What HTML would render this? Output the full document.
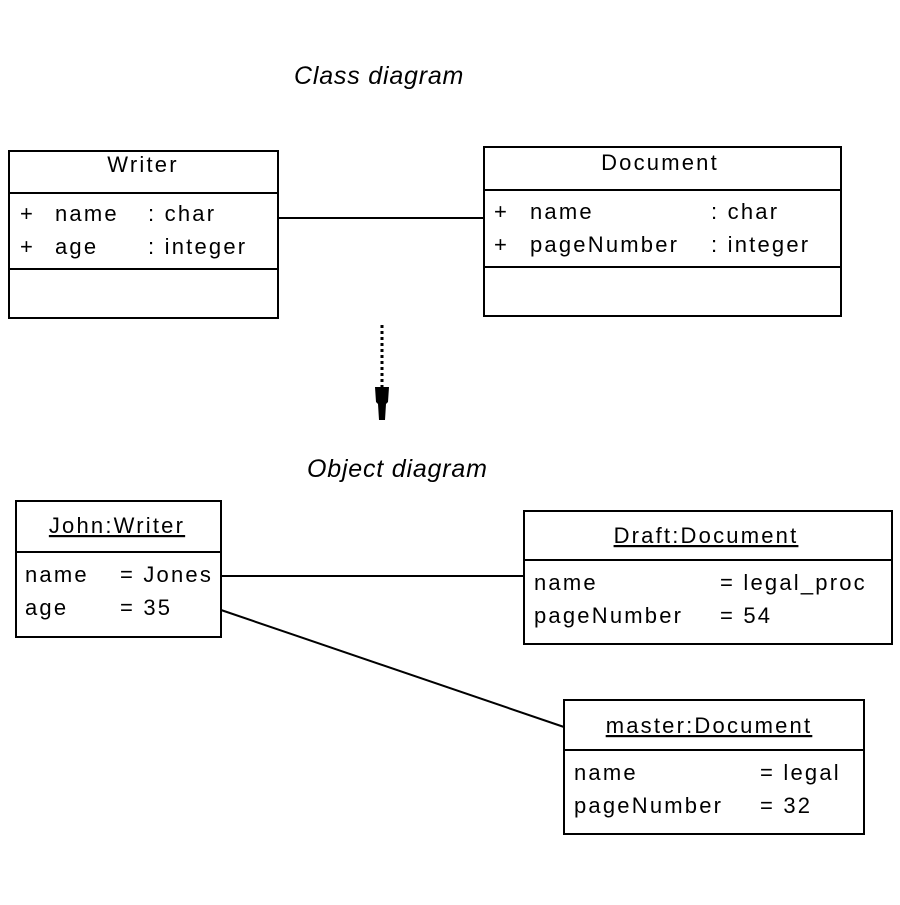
<!DOCTYPE html>
<html><head><style>
body{margin:0;background:#fff}
svg text{font-family:"Liberation Sans",sans-serif;font-size:22px;fill:#000;letter-spacing:2.2px}
.i{font-style:italic;letter-spacing:0.8px;font-size:25px}
</style></head><body>
<svg width="900" height="900" viewBox="0 0 900 900" xmlns="http://www.w3.org/2000/svg">
<rect width="900" height="900" fill="#fff"/>
<g fill="none" stroke="#000" stroke-width="2">
<rect x="9" y="151" width="269" height="167"/>
<line x1="9" y1="193" x2="278" y2="193"/>
<line x1="9" y1="269" x2="278" y2="269"/>
<rect x="484" y="147" width="357" height="169"/>
<line x1="484" y1="190" x2="841" y2="190"/>
<line x1="484" y1="267" x2="841" y2="267"/>
<line x1="278" y1="218" x2="484" y2="218"/>
<line x1="382" y1="325" x2="382" y2="390" stroke-dasharray="3,3" stroke-width="3"/>
<rect x="16" y="501" width="205" height="136"/>
<line x1="16" y1="552" x2="221" y2="552"/>
<rect x="524" y="511" width="368" height="133"/>
<line x1="524" y1="560" x2="892" y2="560"/>
<rect x="564" y="700" width="300" height="134"/>
<line x1="564" y1="750" x2="864" y2="750"/>
<line x1="221" y1="576" x2="524" y2="576"/>
<line x1="221" y1="610" x2="564" y2="727"/>
</g>
<path d="M375 387 L389 387 L388 402 L386 404 L385 420 L379 420 L378 404 L376 402 Z" fill="#000"/>
<text class="i" x="294" y="84">Class diagram</text>
<text class="i" x="307" y="477">Object diagram</text>
<text x="143" y="172" text-anchor="middle">Writer</text>
<text x="20" y="221">+</text><text x="55" y="221">name</text><text x="148" y="221">: char</text>
<text x="20" y="254">+</text><text x="55" y="254">age</text><text x="148" y="254">: integer</text>
<text x="660" y="170" text-anchor="middle">Document</text>
<text x="494" y="219">+</text><text x="530" y="219">name</text><text x="711" y="219">: char</text>
<text x="494" y="252">+</text><text x="530" y="252">pageNumber</text><text x="711" y="252">: integer</text>
<text x="117" y="533" text-anchor="middle" text-decoration="underline">John:Writer</text>
<text x="25" y="582">name</text><text x="120" y="582">= Jones</text>
<text x="25" y="615">age</text><text x="120" y="615">= 35</text>
<text x="706" y="543" text-anchor="middle" text-decoration="underline">Draft:Document</text>
<text x="534" y="590">name</text><text x="720" y="590">= legal_proc</text>
<text x="534" y="623">pageNumber</text><text x="720" y="623">= 54</text>
<text x="709" y="733" text-anchor="middle" text-decoration="underline">master:Document</text>
<text x="574" y="780">name</text><text x="760" y="780">= legal</text>
<text x="574" y="813">pageNumber</text><text x="760" y="813">= 32</text>
</svg>
</body></html>
